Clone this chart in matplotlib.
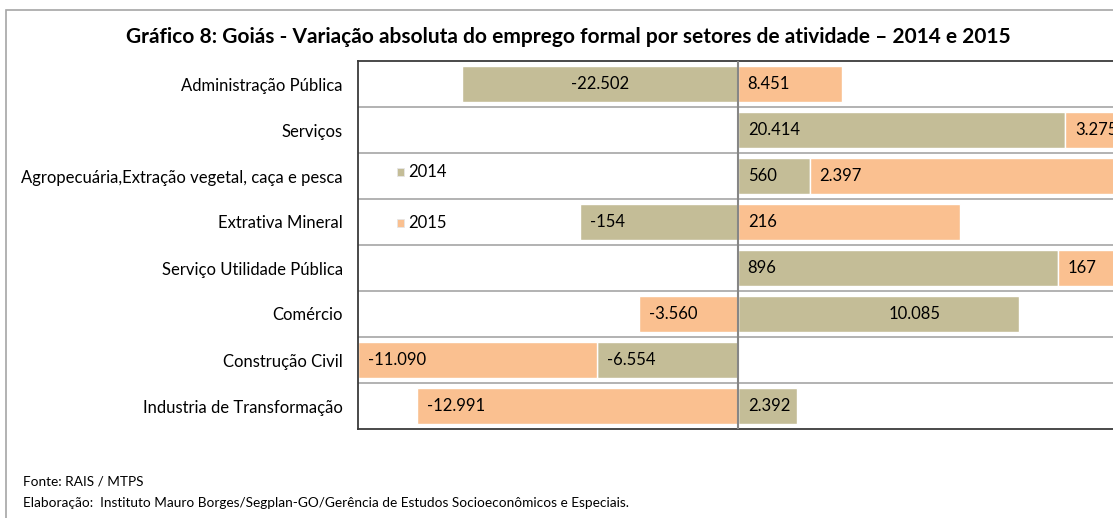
import numpy as np
import matplotlib
matplotlib.use('Agg')
import matplotlib.pyplot as plt
from matplotlib.patches import Rectangle

plt.rcParams['font.family'] = ['Lato', 'DejaVu Sans']

# data
sectors = ['Administração Pública', 'Serviços',
           'Agropecuária,Extração vegetal, caça e pesca', 'Extrativa Mineral',
           'Serviço Utilidade Pública', 'Comércio', 'Construção Civil',
           'Industria de Transformação']
var_2014 = [-22502, 20414, 560, -154, 896, 10085, -6554, 2392]
var_2015 = [8451, 3275, 2397, 216, 167, -3560, -11090, -12991]
years = ['2014', '2015']

c14 = '#C4BD97'
c15 = '#FAC090'
fs = 12

def fmt(v):
    return '{:,}'.format(v).replace(',', '.')

W, H = 1113, 518
fig = plt.figure(figsize=(W / 100, H / 100), dpi=100)

# outer frame of the chart object (runs past the right and bottom edges)
fig.patches.append(Rectangle((6 / W, -0.2), 1.2, 1.2 - 10 / H,
                             transform=fig.transFigure, fill=False,
                             edgecolor='#a6a6a6', lw=1.2))

# plot area: x from -100% to +100%, right side cut off by the picture
ax = fig.add_axes([358 / W, (H - 429) / H, 760 / W, 368 / H])

a14 = np.array(var_2014, dtype=float)
a15 = np.array(var_2015, dtype=float)
tot = np.abs(a14) + np.abs(a15)
s14 = a14 / tot
s15 = a15 / tot
y = np.arange(len(sectors))

# stack away from zero: 2014 next to the axis, 2015 beyond it
left14 = np.where(s14 < 0, s14, 0)
left15 = np.where(s15 < 0, np.where(s14 < 0, s14, 0) + s15,
                  np.where(s14 > 0, s14, 0))

h = 0.8
ax.barh(y, np.abs(s14), left=left14, height=h, color=c14, edgecolor='white', lw=1, zorder=2)
ax.barh(y, np.abs(s15), left=left15, height=h, color=c15, edgecolor='white', lw=1, zorder=2)

# data labels: near the left end of each piece, a couple placed inside
centred = {(0, 0): 0.5, (5, 0): 0.63}
for i in range(len(sectors)):
    for k, (lft, w, v) in enumerate([(left14[i], abs(s14[i]), var_2014[i]),
                                     (left15[i], abs(s15[i]), var_2015[i])]):
        if (i, k) in centred:
            ax.text(lft + w * centred[(i, k)], y[i], fmt(v), ha='center',
                    va='center', fontsize=fs, zorder=4)
        else:
            ax.annotate(fmt(v), (lft, y[i]), xytext=(7, 0), textcoords='offset points',
                        ha='left', va='center', fontsize=fs, zorder=4,
                        annotation_clip=False)

ax.set_xlim(-1, 1)
ax.set_ylim(len(sectors) - 0.5, -0.5)
for b in y[:-1]:
    ax.axhline(b + 0.5, color='#a6a6a6', lw=1.2, zorder=1)
ax.axvline(0, color='#868686', lw=1.5, zorder=3)

ax.set_xticks([])
ax.set_yticks(y)
ax.set_yticklabels(sectors, fontsize=fs)
ax.tick_params(axis='y', length=0, pad=11)
for s in ['top', 'left', 'bottom']:
    ax.spines[s].set_color('#3a3a3a')
    ax.spines[s].set_linewidth(1.3)
ax.spines['right'].set_visible(False)

# legend sitting inside the plot area
for yy, lab, col in [(0.698, years[0], c14), (0.560, years[1], c15)]:
    ax.add_patch(Rectangle((0.051, yy - 0.011), 0.009, 0.022, transform=ax.transAxes,
                           facecolor=col, edgecolor='#e6e6e6', lw=0.6, zorder=5))
    ax.text(0.0655, yy, lab, transform=ax.transAxes, ha='left', va='center',
            fontsize=fs, zorder=5)

fig.text(568 / W, (H - 37) / H,
         'Gráfico 8: Goiás - Variação absoluta do emprego formal por setores de atividade – 2014 e 2015',
         ha='center', va='center', fontsize=15, fontweight='bold')
fig.text(23 / W, (H - 481) / H, 'Fonte: RAIS / MTPS', ha='left', va='center', fontsize=9.8)
fig.text(23 / W, (H - 503) / H,
         'Elaboração:  Instituto Mauro Borges/Segplan-GO/Gerência de Estudos Socioeconômicos e Especiais.',
         ha='left', va='center', fontsize=9.8)

fig.savefig('out.png', dpi=100)
